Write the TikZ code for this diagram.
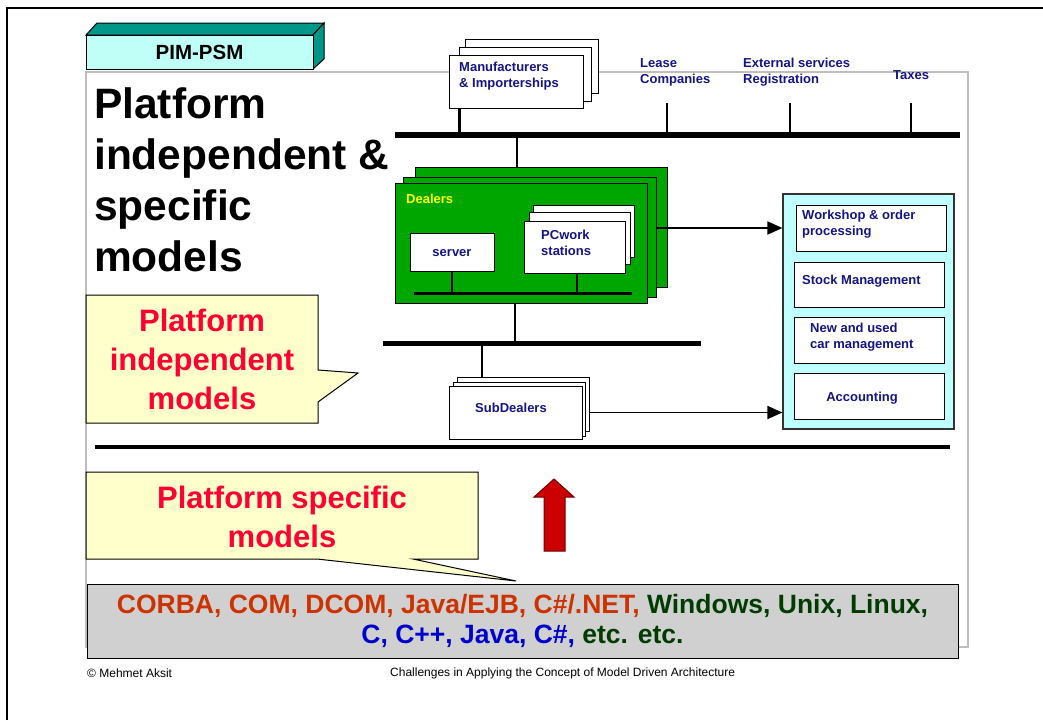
\documentclass[tikz,border=0pt]{standalone}
\usepackage{fontspec}
\setmainfont{Liberation Sans}
\usetikzlibrary{arrows.meta}

\definecolor{navytext}{RGB}{20,20,130}
\definecolor{dealergreen}{RGB}{0,166,0}
\definecolor{dealeryellow}{RGB}{255,255,0}
\definecolor{panelcyan}{RGB}{192,255,255}
\definecolor{tabfront}{RGB}{192,255,248}
\definecolor{tabteal}{RGB}{0,150,136}
\definecolor{notefill}{RGB}{255,255,204}
\definecolor{notered}{RGB}{255,0,51}
\definecolor{arrowred}{RGB}{204,0,0}
\definecolor{arrowedge}{RGB}{110,0,0}
\definecolor{barfill}{RGB}{208,208,208}
\definecolor{framegray}{RGB}{190,190,190}
\definecolor{mwred}{RGB}{204,51,0}
\definecolor{osgreen}{RGB}{0,60,0}
\definecolor{langblue}{RGB}{0,0,204}

\tikzset{
  wbox/.style={draw=black, line width=1pt, fill=white, inner sep=0pt},
  gbox/.style={wbox, fill=dealergreen},
  boxlabel/.style={font=\bfseries\fontsize{13}{16}\selectfont, text=navytext, align=left, inner sep=0pt},
  bus/.style={line width=5.5pt},
  link/.style={line width=2.5pt},
  thinlink/.style={line width=1.5pt},
  flow/.style={line width=1.8pt, -{Triangle[length=15pt,width=13pt]}},
  note/.style={draw=black, line width=1pt, fill=notefill},
  notetext/.style={font=\bfseries\fontsize{31}{39}\selectfont, text=notered, align=center, inner sep=0pt},
  footer/.style={font=\fontsize{12}{14}\selectfont, inner sep=0pt},
}

\begin{document}
\begin{tikzpicture}[x=1pt, y=-1pt]
\useasboundingbox (0,0) rectangle (1043,720);
\fill[white] (0,0) rectangle (1043,720);

% slide frame
\draw[line width=2.5pt] (7,720) -- (7,8) -- (1043,8);

% content area
\draw[framegray, line width=1.5pt, fill=white] (86,72) rectangle (968,647);

% PIM-PSM tab
\fill[tabteal, draw=black, line width=1pt] (86,35) -- (97,23) -- (324,23) -- (313,35) -- cycle;
\fill[tabteal, draw=black, line width=1pt] (313,35) -- (324,23) -- (324,59) -- (313,69) -- cycle;
\node[draw=black, line width=1pt, fill=tabfront, minimum width=227pt, minimum height=34pt,
      inner sep=0pt, font=\bfseries\fontsize{20.5}{24}\selectfont] (tab) at (199.5,52) {PIM-PSM};

% heading (base anchor sits on the last line)
\node[anchor=base west, align=left, inner sep=0pt, font=\bfseries\fontsize{42.5}{51}\selectfont]
  (heading) at (94,271) {Platform\\independent \&\\specific\\models};

% upper bus with external parties
\coordinate (busTL) at (395,135);
\coordinate (busTR) at (960,135);
\draw[bus] (busTL) -- (busTR);

\node[wbox, minimum width=133pt, minimum height=54pt] (manufback) at (531.5,66) {};
\node[wbox, minimum width=132pt, minimum height=54pt] (manufmid) at (525,74) {};
\node[wbox, minimum width=134pt, minimum height=53pt] (manuf) at (516,81.5) {};
\node[boxlabel, anchor=west] (manuftext) at (459,76) {Manufacturers\\\& Importerships};
\draw[link] ([xshift=11pt]manuf.south west) -- ([xshift=11pt]manuf.south west |- busTL);

\node[boxlabel, anchor=west] (lease) at (640,72) {Lease\\Companies};
\node[boxlabel, anchor=west] (extsrv) at (743,72) {External services\\Registration};
\node[boxlabel, anchor=west] (taxes) at (893,75) {Taxes};
\coordinate (leaseTop) at (667,103);
\coordinate (extTop) at (790,103);
\coordinate (taxTop) at (911,103);
\draw[link] (leaseTop) -- (leaseTop |- busTL);
\draw[link] (extTop) -- (extTop |- busTL);
\draw[link] (taxTop) -- (taxTop |- busTL);

% dealers stack
\node[gbox, minimum width=252pt, minimum height=120pt] (dealerback) at (541,227) {};
\node[gbox, minimum width=253pt, minimum height=120pt] (dealermid) at (529.5,237) {};
\node[gbox, minimum width=252pt, minimum height=120pt] (dealers) at (521,243) {};
\coordinate (dealerTop) at (517,167);
\draw[link] (dealerTop |- busTL) -- (dealerTop);
\node[anchor=west, inner sep=0pt, font=\bfseries\fontsize{13}{16}\selectfont, text=dealeryellow]
  (dealertext) at (406,199) {Dealers};

\node[wbox, minimum width=84pt, minimum height=38pt] (server) at (452,252) {};
\node[boxlabel] (servertext) at (452,253) {server};
\node[wbox, minimum width=101pt, minimum height=52pt] (pcback) at (583.5,231) {};
\node[wbox, minimum width=101pt, minimum height=52pt] (pcmid) at (579.5,238) {};
\node[wbox, minimum width=101pt, minimum height=52pt] (pc) at (574.5,247) {};
\node[boxlabel, anchor=west] (pctext) at (541,243) {PCwork\\stations};

\coordinate (lanL) at (414,293);
\coordinate (lanR) at (632,293);
\draw[line width=3pt] (lanL) -- (lanR);
\draw[thinlink] (server.south) -- (server.south |- lanL);
\draw[thinlink] ([xshift=2.5pt]pc.south) -- ([xshift=2.5pt]pc.south |- lanL);

% middle bus and sub-dealers
\coordinate (busML) at (383,343);
\coordinate (busMR) at (701,343);
\draw[line width=5pt] (busML) -- (busMR);
\draw[link] ([xshift=-6pt]dealers.south) -- ([xshift=-6pt]dealers.south |- busML);

\node[wbox, minimum width=132pt, minimum height=54pt] (subback) at (523,404) {};
\node[wbox, minimum width=132pt, minimum height=54pt] (submid) at (519,409) {};
\node[wbox, minimum width=133pt, minimum height=53pt] (sub) at (515.5,412.5) {};
\node[boxlabel] (subtext) at (511,408) {SubDealers};
\coordinate (subTop) at (482,377);
\draw[link] (subTop |- busML) -- (subTop);

% back-office applications
\node[draw=black!80, line width=1.2pt, fill=panelcyan, minimum width=171pt, minimum height=235pt,
      inner sep=0pt] (panel) at (868.5,311.5) {};
\node[wbox, minimum width=150pt, minimum height=46pt] (workshop) at (871,228) {};
\node[wbox, minimum width=150pt, minimum height=45pt] (stock) at (869,284.5) {};
\node[wbox, minimum width=150pt, minimum height=46pt] (cars) at (869,340) {};
\node[wbox, minimum width=150pt, minimum height=46pt] (accounting) at (869,396) {};
\node[boxlabel, anchor=west] (workshoptext) at (802,224) {Workshop \& order\\processing};
\node[boxlabel, anchor=west] (stocktext) at (802,281) {Stock Management};
\node[boxlabel, anchor=west] (carstext) at (810,337) {New and used\\car management};
\node[boxlabel] (accountingtext) at (862,398) {Accounting};

\draw[flow] (dealermid.east |- workshop.west) -- (panel.west |- workshop.west);
\draw[flow] (subback.east |- sub.east) -- (panel.west |- sub.east);

% separator between the model levels
\coordinate (sepL) at (95,447);
\coordinate (sepR) at (950,447);
\draw[line width=4pt] (sepL) -- (sepR);

% callouts
\draw[note] (86,295) -- (318,295) -- (318,370) -- (358,373) -- (318,402) -- (318,423) -- (86,423) -- cycle;
\node[notetext] (pimtext) at (202,359) {Platform\\independent\\models};

\draw[note] (86,472) -- (478,472) -- (478,559) -- (413,559) -- (516,581) -- (317,559) -- (86,559) -- cycle;
\node[notetext] (psmtext) at (282,517) {Platform specific\\models};

% transformation arrow
\draw[fill=arrowred, draw=arrowedge, line width=1pt]
  (544,551) -- (544,497) -- (534,497) -- (554,479) -- (574,497) -- (565,497) -- (565,551) -- cycle;

% platforms bar
\node[draw=black, line width=1pt, fill=barfill, minimum width=871pt, minimum height=74pt, inner sep=0pt]
  (platforms) at (522.5,621) {};
\node[align=center, inner sep=0pt, font=\bfseries\fontsize{26.5}{30}\selectfont] (platformtext) at (522.5,621)
  {\textcolor{mwred}{CORBA, COM, DCOM, Java/EJB, C\#/.NET,} \textcolor{osgreen}{Windows, Unix, Linux,}\\
   \textcolor{langblue}{C, C++, Java, C\#,} \textcolor{osgreen}{etc. etc.}};

% footer
\node[footer, anchor=west] (author) at (87,673) {© Mehmet Aksit};
\node[footer, anchor=west] (title) at (390,673) {Challenges in Applying the Concept of Model Driven Architecture};
\end{tikzpicture}
\end{document}
